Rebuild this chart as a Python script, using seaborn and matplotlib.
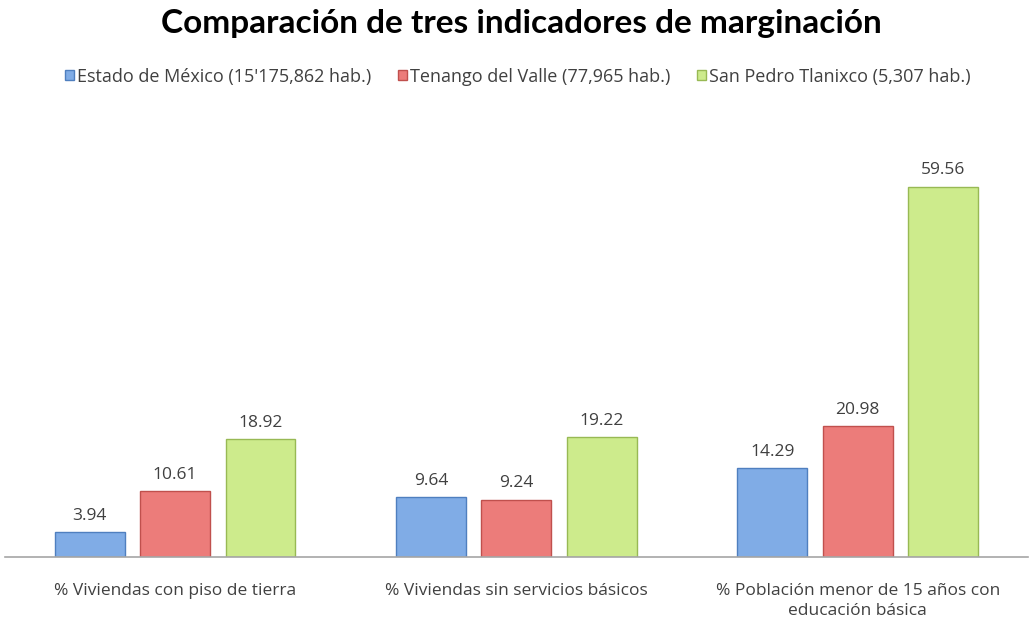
import matplotlib
matplotlib.use("Agg")
import matplotlib.pyplot as plt
import seaborn as sns
import pandas as pd
from matplotlib.patches import Patch

categories = ["% Viviendas con piso de tierra",
              "% Viviendas sin servicios básicos",
              "% Población menor de 15 años con\neducación básica"]
series_names = ["Estado de México (15'175,862 hab.)",
                "Tenango del Valle (77,965 hab.)",
                "San Pedro Tlanixco (5,307 hab.)"]
estado = [3.94, 9.64, 14.29]
tenango = [10.61, 9.24, 20.98]
tlanixco = [18.92, 19.22, 59.56]

face_colors = ["#80ace6", "#ec7c7a", "#cdeb8c"]
edge_colors = ["#4f7fbf", "#c0504d", "#98b954"]

rows = []
for name, vals in zip(series_names, [estado, tenango, tlanixco]):
    for c, v in zip(categories, vals):
        rows.append({"cat": c, "serie": name, "val": v})
df = pd.DataFrame(rows)

sns.set_theme(style="white")
plt.rcParams["font.family"] = ["Open Sans", "DejaVu Sans"]

fig = plt.figure(figsize=(10.29, 6.19), dpi=100)
ax = fig.add_axes([0.0044, 0.1002, 0.995, 0.7034])

sns.barplot(data=df, x="cat", y="val", hue="serie", order=categories,
            hue_order=series_names, palette=face_colors, width=0.75, gap=0.18,
            ax=ax, legend=False, saturation=1)

for i, cont in enumerate(ax.containers):
    for bar in cont:
        bar.set_edgecolor(edge_colors[i])
        bar.set_linewidth(1.0)
    ax.bar_label(cont, labels=[f"{v:.2f}" for v in cont.datavalues],
                 padding=6, fontsize=12.5, color="#404040")

ax.set_xlim(-0.5, 2.5)
ax.set_ylim(0, 70)
ax.set_xlabel("")
ax.set_ylabel("")
ax.set_yticks([])
ax.tick_params(axis="x", length=0, pad=19, labelsize=12.5, labelcolor="#404040")
for lbl in ax.get_xticklabels():
    lbl.set_linespacing(1.3)
for s in ["top", "left", "right"]:
    ax.spines[s].set_visible(False)
ax.spines["bottom"].set_color("#a6a6a6")
ax.spines["bottom"].set_linewidth(1.2)

handles = [Patch(facecolor=f, edgecolor=e) for f, e in zip(face_colors, edge_colors)]
fig.legend(handles, series_names, loc="center", bbox_to_anchor=(0.503, 0.876),
           ncol=3, frameon=False, fontsize=13, handlelength=0.5, handleheight=0.5,
           handletextpad=0.15, columnspacing=1.5, labelcolor="#404040")

fig.text(0.507, 0.962, "Comparación de tres indicadores de marginación",
         ha="center", va="center", fontsize=24, fontweight="bold", color="#000000",
         family=["Lato", "DejaVu Sans"])

fig.savefig("out.png", dpi=100)
